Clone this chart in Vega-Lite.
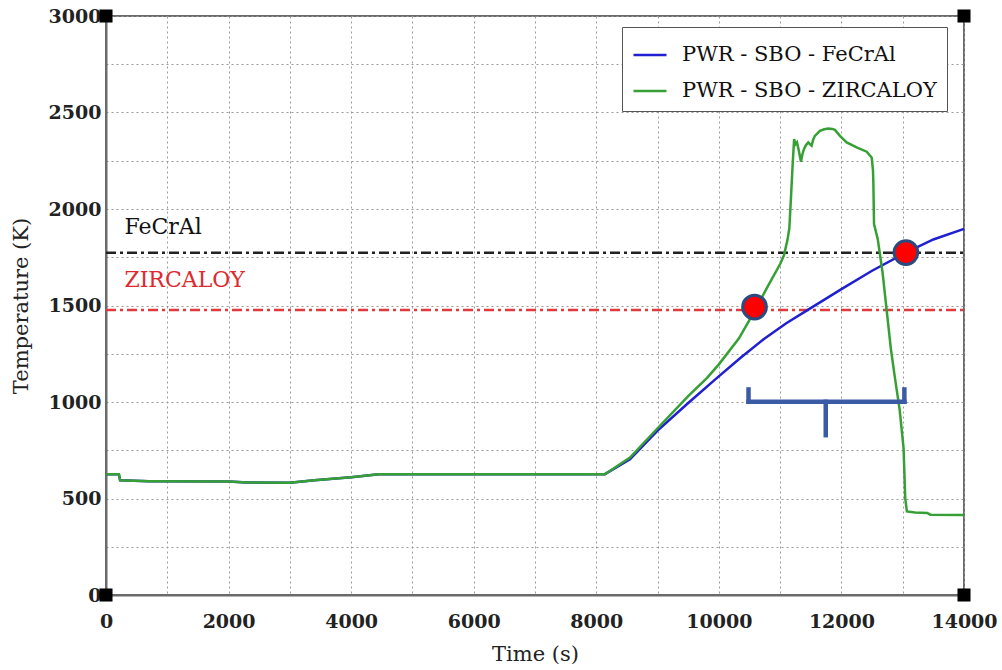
{
  "$schema": "https://vega.github.io/schema/vega-lite/v6.json",
  "width": 858,
  "height": 579,
  "autosize": {"type": "none"},
  "padding": {"left": 106, "top": 16, "right": 38, "bottom": 75},
  "background": "white",
  "datasets": {
    "curves": [
      {"series": "PWR - SBO - FeCrAl", "time": 0, "temp": 626},
      {"series": "PWR - SBO - FeCrAl", "time": 210, "temp": 626},
      {"series": "PWR - SBO - FeCrAl", "time": 230, "temp": 594},
      {"series": "PWR - SBO - FeCrAl", "time": 700, "temp": 590},
      {"series": "PWR - SBO - FeCrAl", "time": 2000, "temp": 588},
      {"series": "PWR - SBO - FeCrAl", "time": 2300, "temp": 583},
      {"series": "PWR - SBO - FeCrAl", "time": 3000, "temp": 582},
      {"series": "PWR - SBO - FeCrAl", "time": 3400, "temp": 595},
      {"series": "PWR - SBO - FeCrAl", "time": 4000, "temp": 610},
      {"series": "PWR - SBO - FeCrAl", "time": 4450, "temp": 626},
      {"series": "PWR - SBO - FeCrAl", "time": 8140, "temp": 626},
      {"series": "PWR - SBO - FeCrAl", "time": 8550, "temp": 703},
      {"series": "PWR - SBO - FeCrAl", "time": 9000, "temp": 852},
      {"series": "PWR - SBO - FeCrAl", "time": 9500, "temp": 995},
      {"series": "PWR - SBO - FeCrAl", "time": 9970, "temp": 1125},
      {"series": "PWR - SBO - FeCrAl", "time": 10350, "temp": 1228},
      {"series": "PWR - SBO - FeCrAl", "time": 10730, "temp": 1325},
      {"series": "PWR - SBO - FeCrAl", "time": 11100, "temp": 1408},
      {"series": "PWR - SBO - FeCrAl", "time": 11465, "temp": 1480},
      {"series": "PWR - SBO - FeCrAl", "time": 12000, "temp": 1585},
      {"series": "PWR - SBO - FeCrAl", "time": 12500, "temp": 1680},
      {"series": "PWR - SBO - FeCrAl", "time": 13052, "temp": 1774},
      {"series": "PWR - SBO - FeCrAl", "time": 13500, "temp": 1842},
      {"series": "PWR - SBO - FeCrAl", "time": 14000, "temp": 1897},
      {"series": "PWR - SBO - ZIRCALOY", "time": 0, "temp": 626},
      {"series": "PWR - SBO - ZIRCALOY", "time": 210, "temp": 626},
      {"series": "PWR - SBO - ZIRCALOY", "time": 230, "temp": 594},
      {"series": "PWR - SBO - ZIRCALOY", "time": 700, "temp": 590},
      {"series": "PWR - SBO - ZIRCALOY", "time": 2000, "temp": 588},
      {"series": "PWR - SBO - ZIRCALOY", "time": 2300, "temp": 583},
      {"series": "PWR - SBO - ZIRCALOY", "time": 3000, "temp": 582},
      {"series": "PWR - SBO - ZIRCALOY", "time": 3400, "temp": 595},
      {"series": "PWR - SBO - ZIRCALOY", "time": 4000, "temp": 610},
      {"series": "PWR - SBO - ZIRCALOY", "time": 4450, "temp": 626},
      {"series": "PWR - SBO - ZIRCALOY", "time": 8140, "temp": 626},
      {"series": "PWR - SBO - ZIRCALOY", "time": 8550, "temp": 712},
      {"series": "PWR - SBO - ZIRCALOY", "time": 9000, "temp": 864},
      {"series": "PWR - SBO - ZIRCALOY", "time": 9500, "temp": 1030},
      {"series": "PWR - SBO - ZIRCALOY", "time": 9808, "temp": 1125},
      {"series": "PWR - SBO - ZIRCALOY", "time": 10000, "temp": 1195},
      {"series": "PWR - SBO - ZIRCALOY", "time": 10326, "temp": 1329},
      {"series": "PWR - SBO - ZIRCALOY", "time": 10580, "temp": 1470},
      {"series": "PWR - SBO - ZIRCALOY", "time": 10800, "temp": 1600},
      {"series": "PWR - SBO - ZIRCALOY", "time": 11000, "temp": 1715},
      {"series": "PWR - SBO - ZIRCALOY", "time": 11062, "temp": 1760},
      {"series": "PWR - SBO - ZIRCALOY", "time": 11120, "temp": 1840},
      {"series": "PWR - SBO - ZIRCALOY", "time": 11150, "temp": 1900},
      {"series": "PWR - SBO - ZIRCALOY", "time": 11175, "temp": 2050},
      {"series": "PWR - SBO - ZIRCALOY", "time": 11203, "temp": 2224},
      {"series": "PWR - SBO - ZIRCALOY", "time": 11228, "temp": 2362},
      {"series": "PWR - SBO - ZIRCALOY", "time": 11250, "temp": 2335},
      {"series": "PWR - SBO - ZIRCALOY", "time": 11275, "temp": 2345},
      {"series": "PWR - SBO - ZIRCALOY", "time": 11300, "temp": 2310},
      {"series": "PWR - SBO - ZIRCALOY", "time": 11340, "temp": 2245},
      {"series": "PWR - SBO - ZIRCALOY", "time": 11360, "temp": 2280},
      {"series": "PWR - SBO - ZIRCALOY", "time": 11388, "temp": 2310},
      {"series": "PWR - SBO - ZIRCALOY", "time": 11420, "temp": 2330},
      {"series": "PWR - SBO - ZIRCALOY", "time": 11459, "temp": 2345},
      {"series": "PWR - SBO - ZIRCALOY", "time": 11490, "temp": 2335},
      {"series": "PWR - SBO - ZIRCALOY", "time": 11513, "temp": 2328},
      {"series": "PWR - SBO - ZIRCALOY", "time": 11540, "temp": 2360},
      {"series": "PWR - SBO - ZIRCALOY", "time": 11567, "temp": 2379},
      {"series": "PWR - SBO - ZIRCALOY", "time": 11649, "temp": 2405},
      {"series": "PWR - SBO - ZIRCALOY", "time": 11720, "temp": 2413},
      {"series": "PWR - SBO - ZIRCALOY", "time": 11785, "temp": 2417},
      {"series": "PWR - SBO - ZIRCALOY", "time": 11850, "temp": 2415},
      {"series": "PWR - SBO - ZIRCALOY", "time": 11894, "temp": 2410},
      {"series": "PWR - SBO - ZIRCALOY", "time": 11976, "temp": 2379},
      {"series": "PWR - SBO - ZIRCALOY", "time": 12085, "temp": 2345},
      {"series": "PWR - SBO - ZIRCALOY", "time": 12248, "temp": 2319},
      {"series": "PWR - SBO - ZIRCALOY", "time": 12412, "temp": 2297},
      {"series": "PWR - SBO - ZIRCALOY", "time": 12493, "temp": 2267},
      {"series": "PWR - SBO - ZIRCALOY", "time": 12515, "temp": 2200},
      {"series": "PWR - SBO - ZIRCALOY", "time": 12521, "temp": 2138},
      {"series": "PWR - SBO - ZIRCALOY", "time": 12528, "temp": 2000},
      {"series": "PWR - SBO - ZIRCALOY", "time": 12532, "temp": 1922},
      {"series": "PWR - SBO - ZIRCALOY", "time": 12592, "temp": 1845},
      {"series": "PWR - SBO - ZIRCALOY", "time": 12670, "temp": 1674},
      {"series": "PWR - SBO - ZIRCALOY", "time": 12806, "temp": 1278},
      {"series": "PWR - SBO - ZIRCALOY", "time": 12862, "temp": 1150},
      {"series": "PWR - SBO - ZIRCALOY", "time": 12950, "temp": 960},
      {"series": "PWR - SBO - ZIRCALOY", "time": 13014, "temp": 760},
      {"series": "PWR - SBO - ZIRCALOY", "time": 13041, "temp": 502},
      {"series": "PWR - SBO - ZIRCALOY", "time": 13068, "temp": 433},
      {"series": "PWR - SBO - ZIRCALOY", "time": 13200, "temp": 428},
      {"series": "PWR - SBO - ZIRCALOY", "time": 13400, "temp": 425},
      {"series": "PWR - SBO - ZIRCALOY", "time": 13450, "temp": 416},
      {"series": "PWR - SBO - ZIRCALOY", "time": 14000, "temp": 414}
    ],
    "thresholds": [
      {"name": "FeCrAl", "time": 0, "timeEnd": 14000, "temp": 1773},
      {"name": "ZIRCALOY", "time": 0, "timeEnd": 14000, "temp": 1477}
    ],
    "labels": [
      {"name": "FeCrAl", "time": 300, "temp": 1872},
      {"name": "ZIRCALOY", "time": 300, "temp": 1598}
    ],
    "markers": [
      {"time": 10582, "temp": 1492},
      {"time": 13052, "temp": 1774}
    ],
    "brace": [
      {"time": 10484, "timeEnd": 13027, "temp": 1001, "tempEnd": 1001},
      {"time": 10484, "timeEnd": 10484, "temp": 1001, "tempEnd": 1065},
      {"time": 13027, "timeEnd": 13027, "temp": 1001, "tempEnd": 1065},
      {"time": 11744, "timeEnd": 11744, "temp": 1001, "tempEnd": 828}
    ],
    "corners": [
      {"time": 0, "temp": 0},
      {"time": 14000, "temp": 0},
      {"time": 0, "temp": 3000},
      {"time": 14000, "temp": 3000}
    ]
  },
  "encoding": {
    "x": {
      "field": "time",
      "type": "quantitative",
      "scale": {"domain": [0, 14000], "nice": false, "zero": false},
      "axis": {
        "title": "Time (s)",
        "values": [0, 1000, 2000, 3000, 4000, 5000, 6000, 7000, 8000, 9000, 10000, 11000, 12000, 13000, 14000],
        "format": "d",
        "labelExpr": "datum.value % 2000 === 0 ? datum.label : ''",
        "labelFlush": false,
        "labelOverlap": false,
        "labelPadding": 17,
        "titlePadding": 12,
        "gridDash": [2, 3]
      }
    },
    "y": {
      "field": "temp",
      "type": "quantitative",
      "scale": {"domain": [0, 3000], "nice": false},
      "axis": {
        "title": "Temperature (K)",
        "values": [0, 250, 500, 750, 1000, 1250, 1500, 1750, 2000, 2250, 2500, 2750, 3000],
        "format": "d",
        "labelExpr": "datum.value % 500 === 0 ? datum.label : ''",
        "labelPadding": 5,
        "titlePadding": 17,
        "gridDash": [2, 3]
      }
    }
  },
  "layer": [
    {
      "data": {"name": "thresholds"},
      "transform": [{"filter": "datum.name === 'FeCrAl'"}],
      "mark": {"type": "rule", "color": "#222222", "strokeWidth": 2.5, "strokeDash": [10, 4, 3, 4]},
      "encoding": {"x2": {"field": "timeEnd"}}
    },
    {
      "data": {"name": "thresholds"},
      "transform": [{"filter": "datum.name === 'ZIRCALOY'"}],
      "mark": {"type": "rule", "color": "#e03a3e", "strokeWidth": 2.5, "strokeDash": [10, 4, 3, 4]},
      "encoding": {"x2": {"field": "timeEnd"}}
    },
    {
      "data": {"name": "curves"},
      "mark": {"type": "line", "strokeWidth": 2.5},
      "encoding": {
        "color": {
          "field": "series",
          "type": "nominal",
          "scale": {"domain": ["PWR - SBO - FeCrAl", "PWR - SBO - ZIRCALOY"], "range": ["#2020d0", "#36a035"]},
          "legend": {
            "title": null,
            "orient": "none",
            "legendX": 516,
            "legendY": 11,
            "padding": 10,
            "strokeColor": "#555555",
            "fillColor": "white",
            "labelFont": "DejaVu Serif",
            "labelFontSize": 21,
            "labelColor": "#111111",
            "labelLimit": 500,
            "symbolType": "stroke",
            "symbolSize": 1090,
            "symbolStrokeWidth": 2.5,
            "rowPadding": 8,
            "labelOffset": 14
          }
        }
      }
    },
    {
      "data": {"name": "brace"},
      "mark": {"type": "rule", "color": "#3b5ba5", "strokeWidth": 4.5, "strokeCap": "square"},
      "encoding": {"x2": {"field": "timeEnd"}, "y2": {"field": "tempEnd"}}
    },
    {
      "data": {"name": "markers"},
      "mark": {"type": "point", "filled": true, "fill": "#ff0000", "stroke": "#2b4a80", "strokeWidth": 3, "size": 560, "opacity": 1}
    },
    {
      "data": {"name": "labels"},
      "transform": [{"filter": "datum.name === 'FeCrAl'"}],
      "mark": {"type": "text", "align": "left", "baseline": "alphabetic", "font": "DejaVu Serif", "fontSize": 22, "color": "#111111"},
      "encoding": {"text": {"field": "name"}}
    },
    {
      "data": {"name": "labels"},
      "transform": [{"filter": "datum.name === 'ZIRCALOY'"}],
      "mark": {"type": "text", "align": "left", "baseline": "alphabetic", "font": "DejaVu Serif", "fontSize": 22, "color": "#dd2a30"},
      "encoding": {"text": {"field": "name"}}
    },
    {
      "data": {"name": "corners"},
      "mark": {"type": "point", "shape": "square", "filled": true, "color": "#000000", "size": 170, "opacity": 1, "clip": false}
    }
  ],
  "config": {
    "view": {"stroke": "#6b6b6b", "strokeWidth": 2},
    "axis": {
      "domainColor": "#6b6b6b",
      "domainWidth": 2,
      "grid": true,
      "gridColor": "#9a9a9a",
      "gridWidth": 1,
      "ticks": false,
      "labelFont": "DejaVu Serif",
      "labelFontSize": 19,
      "labelFontWeight": "bold",
      "labelColor": "#222222",
      "titleFont": "DejaVu Serif",
      "titleFontSize": 21,
      "titleFontWeight": "normal",
      "titleColor": "#222222"
    }
  }
}
